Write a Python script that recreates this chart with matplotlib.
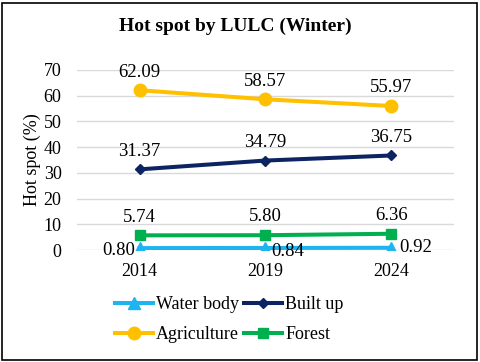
import matplotlib
matplotlib.use("Agg")
import matplotlib.pyplot as plt
import numpy as np

years = ["2014", "2019", "2024"]
water = [0.80, 0.84, 0.92]
built = [31.37, 34.79, 36.75]
agri = [62.09, 58.57, 55.97]
forest = [5.74, 5.80, 6.36]

plt.rcParams['font.family'] = ['Liberation Serif', 'DejaVu Serif']

fig = plt.figure(figsize=(4.8, 3.62), dpi=100)
ax = fig.add_axes([0.160, 0.309, 0.786, 0.498])
x = np.arange(len(years))

lw = 2.9
h_w, = ax.plot(x, water, color='#1DB4F0', lw=lw, marker='^', ms=8, label='Water body', zorder=3)
h_b, = ax.plot(x, built, color='#0C2461', lw=lw, marker='D', ms=5, label='Built up', zorder=3)
h_a, = ax.plot(x, agri, color='#FFC000', lw=lw, marker='o', ms=9, label='Agriculture', zorder=3)
h_f, = ax.plot(x, forest, color='#00B050', lw=lw, marker='s', ms=7.5, label='Forest', zorder=3)

fs = 13
lfs = 13.5
for series in (agri, built, forest):
    for xi, v in zip(x, series):
        ax.annotate(f"{v:.2f}", (xi, v), xytext=(0, 7), textcoords='offset points',
                    ha='center', va='bottom', fontsize=lfs)
offs = [(-3, -2, 'right', 'center'), (4, -2.5, 'left', 'center'), (6, 0, 'left', 'center')]
for xi, v, (dx, dy, ha, va) in zip(x, water, offs):
    ax.annotate(f"{v:.2f}", (xi, v), xytext=(dx, dy), textcoords='offset points',
                ha=ha, va=va, fontsize=lfs)

ax.set_xlim(-0.5, 2.5)
ax.set_ylim(0, 70)
ax.set_yticks(np.arange(0, 71, 10))
ax.set_xticks(x)
ax.set_xticklabels(years)
ax.tick_params(axis='both', length=0, labelsize=fs)
ax.tick_params(axis='y', pad=11)
ax.tick_params(axis='x', pad=9)
ax.grid(axis='y', color='#D9D9D9', lw=1)
ax.set_axisbelow(True)
for s in ax.spines.values():
    s.set_visible(False)
ax.set_ylabel("Hot spot (%)", fontsize=fs, labelpad=2)
fig.text(0.49, 0.927, "Hot spot by LULC (Winter)", fontsize=14, fontweight='bold',
         ha='center', va='center')

fig.legend(handles=[h_w, h_a, h_b, h_f], ncol=2, loc='center', bbox_to_anchor=(0.478, 0.117),
           frameon=False, fontsize=fs, handlelength=2.1, columnspacing=0.3, handletextpad=0.15,
           labelspacing=0.75)

border = plt.Rectangle((0.004, 0.006), 0.99, 0.985, transform=fig.transFigure, fill=False,
                       edgecolor='black', lw=1.2)
fig.patches.append(border)

fig.savefig("out.png", dpi=100)
